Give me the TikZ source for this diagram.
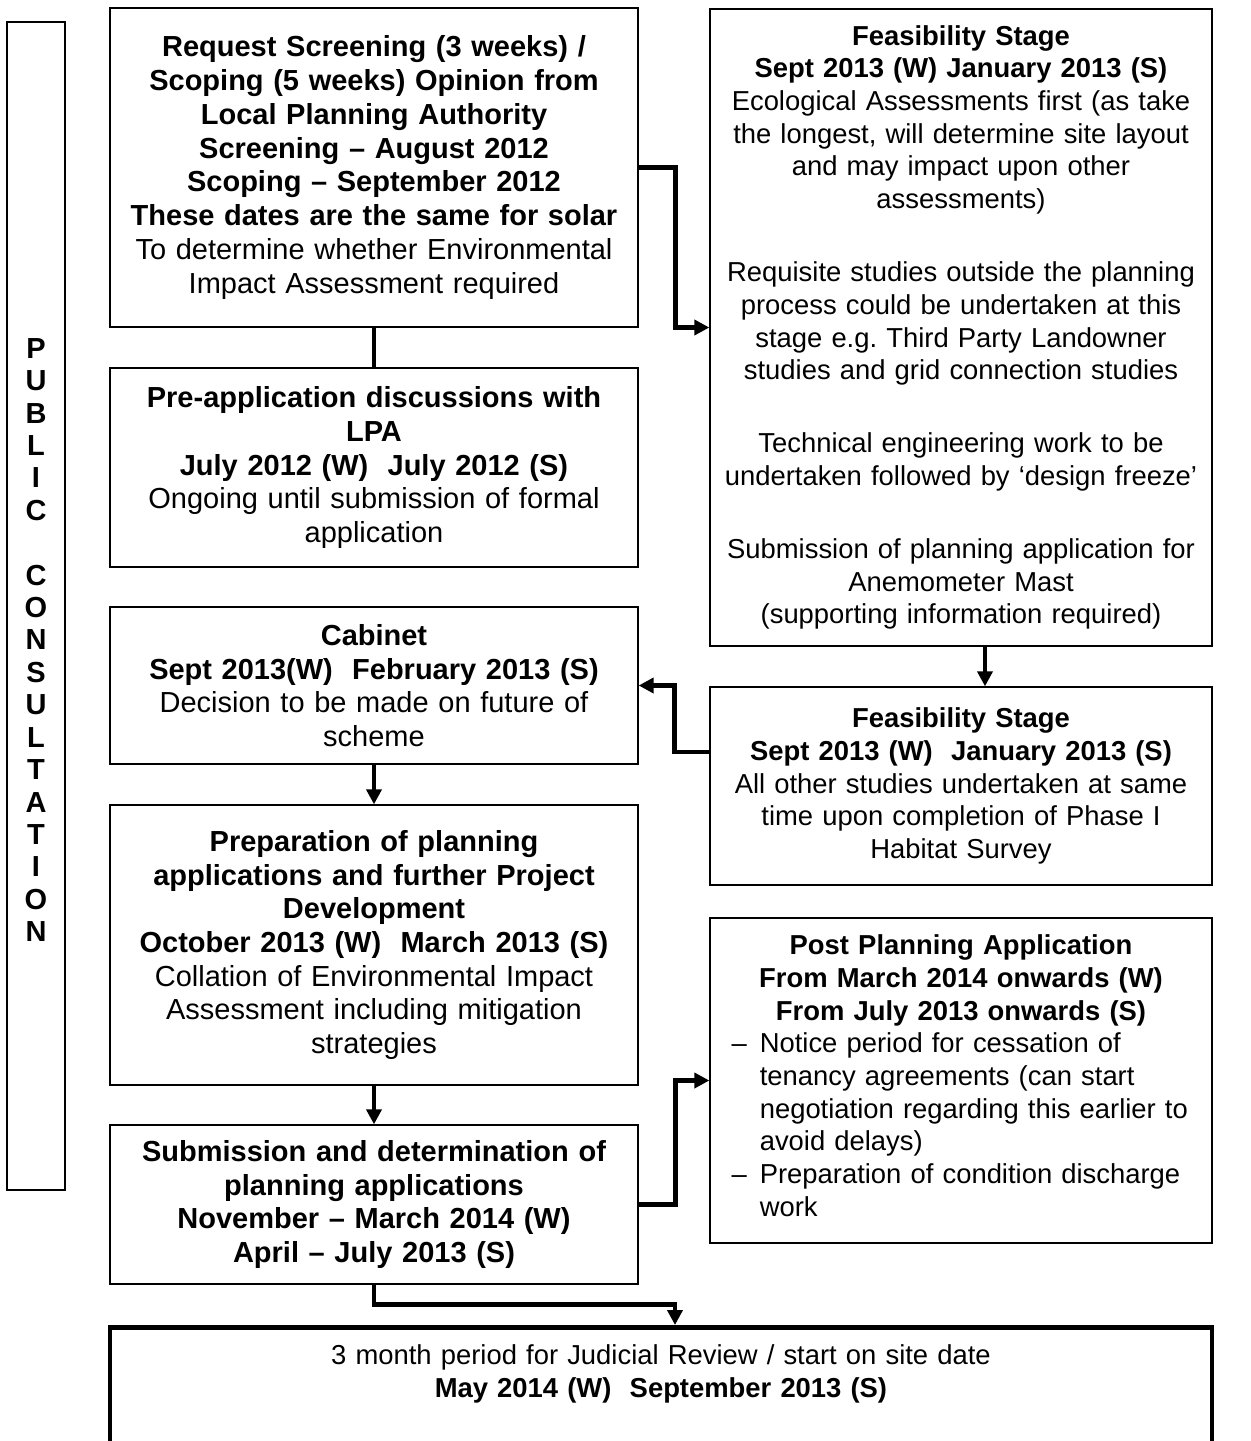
\documentclass[tikz,border=0pt]{standalone}
\usepackage{fontspec}
\setmainfont{Liberation Sans}
\usetikzlibrary{arrows.meta}

\begin{document}
\begin{tikzpicture}[x=0.02cm,y=-0.02cm,
    font=\fontsize{16.5}{19.2}\selectfont,
    >={Triangle[length=0.3cm,width=0.3cm]},
    box/.style={draw,line width=0.8pt,align=center,inner ysep=0pt},
    leftbox/.style={box,text width=10.3cm,inner xsep=0.13cm,minimum height=#1},
    rightbox/.style={box,text width=9.78cm,inner xsep=0.13cm,minimum height=#1,
      font=\fontsize{15.6}{18.6}\selectfont},
    link/.style={line width=2.6pt}]
  \useasboundingbox (0,0) rectangle (1251,1441);

  % Public consultation banner down the left side.
  \draw[line width=0.8pt] (7,22) rectangle (65,1190);
  \node[align=center,font=\bfseries\fontsize{16.5}{18.45}\selectfont] (pcl) at (36,640)
    {P\\U\\B\\L\\I\\C\\ \\C\\O\\N\\S\\U\\L\\T\\A\\T\\I\\O\\N};

  % Left column.
  \node[leftbox=6.38cm] (scr) at (374,167.5)
    {\textbf{Request Screening (3 weeks) /}\\
     \textbf{Scoping (5 weeks) Opinion from}\\
     \textbf{Local Planning Authority}\\
     \textbf{Screening – August 2012}\\
     \textbf{Scoping – September 2012}\\
     \textbf{These dates are the same for solar}\\
     To determine whether Environmental\\
     Impact Assessment required};
  \node[leftbox=3.98cm] (pre) at (374,467.5)
    {\textbf{Pre-application discussions with}\\
     \textbf{LPA}\\
     \textbf{July 2012 (W)\ \ July 2012 (S)}\\
     Ongoing until submission of formal\\
     application};
  \node[leftbox=3.14cm] (cab) at (374,685.5)
    {\textbf{Cabinet}\\
     \textbf{Sept 2013(W)\ \ February 2013 (S)}\\
     Decision to be made on future of\\
     scheme};
  \node[leftbox=5.6cm] (prep) at (374,945)
    {\textbf{Preparation of planning}\\
     \textbf{applications and further Project}\\
     \textbf{Development}\\
     \textbf{October 2013 (W)\ \ March 2013 (S)}\\
     Collation of Environmental Impact\\
     Assessment including mitigation\\
     strategies};
  \node[leftbox=3.18cm] (sub) at (374,1204.5)
    {\textbf{Submission and determination of}\\
     \textbf{planning applications}\\
     \textbf{November – March 2014 (W)}\\
     \textbf{April – July 2013 (S)}};

  % Right column.
  \node[rightbox=12.74cm] (feas) at (961,327.5)
    {\textbf{Feasibility Stage}\\
     \textbf{Sept 2013 (W) January 2013 (S)}\\
     Ecological Assessments first (as take\\
     the longest, will determine site layout\\
     and may impact upon other\\
     assessments)\\[23pt]
     Requisite studies outside the planning\\
     process could be undertaken at this\\
     stage e.g.\ Third Party Landowner\\
     studies and grid connection studies\\[23pt]
     Technical engineering work to be\\
     undertaken followed by ‘design freeze’\\[23pt]
     Submission of planning application for\\
     Anemometer Mast\\
     (supporting information required)};
  \node[rightbox=3.96cm] (feas2) at (961,786)
    {\textbf{Feasibility Stage}\\
     \textbf{Sept 2013 (W)\ \ January 2013 (S)}\\
     All other studies undertaken at same\\
     time upon completion of Phase I\\
     Habitat Survey};
  \node[rightbox=6.5cm] (post) at (961,1080.5)
    {\textbf{Post Planning Application}\\
     \textbf{From March 2014 onwards (W)}\\
     \textbf{From July 2013 onwards (S)}\\
     \makebox[9.78cm][l]{\hspace{0.3cm}\begin{tabular}[t]{@{}l@{\hspace{0.26cm}}l@{}}
       – & Notice period for cessation of\\
         & tenancy agreements (can start\\
         & negotiation regarding this earlier to\\
         & avoid delays)\\
       – & Preparation of condition discharge\\
         & work
     \end{tabular}}};

  % Judicial review box, runs off the bottom of the page.
  \node[draw,line width=2.6pt,anchor=north,align=center,text width=21.8cm,
        inner xsep=0.12cm,inner ysep=0.34cm,text depth=3cm,
        font=\fontsize{15.6}{19.2}\selectfont] (jr) at (661,1325)
    {3 month period for Judicial Review / start on site date\\
     \textbf{May 2014 (W)\ \ September 2013 (S)}};

  % Connectors.
  \draw[link] (scr) -- (pre);
  \draw[link,->] (scr.east) -- ++(37,0) |- (feas.west);
  \draw[link,->] ([xshift=0.48cm]feas.south) -- ([xshift=0.48cm]feas2.north);
  \draw[link,->] ([yshift=0.68cm]feas2.west) -- ++(-35,0) |- (cab.east);
  \draw[link,->] (cab) -- (prep);
  \draw[link,->] (prep) -- (sub);
  \draw[link,->] (sub.east) -- ++(37,0) |- (post.west);
  \draw[link,->] (sub.south) -- ++(0,20) -| ([xshift=0.28cm]jr.north);
\end{tikzpicture}
\end{document}
